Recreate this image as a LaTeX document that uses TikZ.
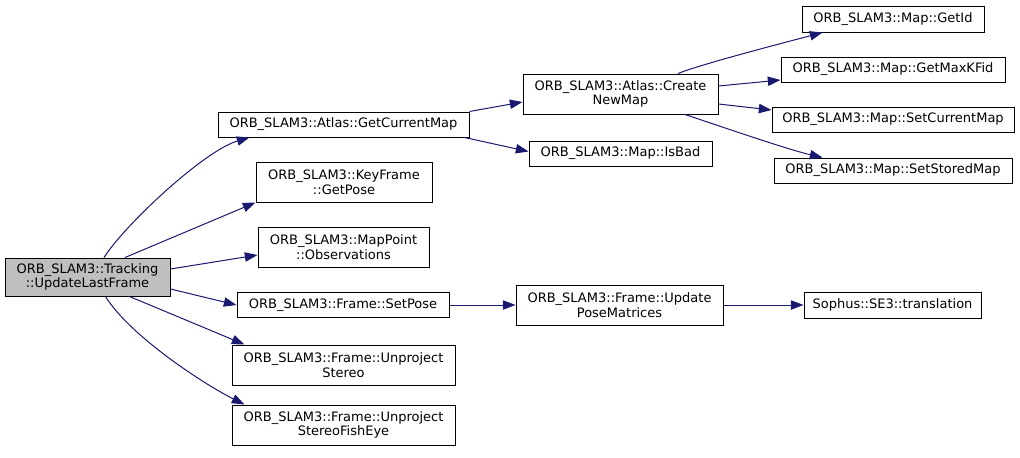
\documentclass[tikz,border=0pt]{standalone}
\usepackage{fontspec}
\setmainfont{DejaVu Sans}
\usetikzlibrary{arrows.meta,calc}
\definecolor{edgeblue}{HTML}{191970}
\definecolor{curgray}{HTML}{BFBFBF}

\begin{document}
\begin{tikzpicture}[x=0.75pt,y=-0.75pt,>={Triangle[length=9.5pt,width=7pt]},
  fn/.style={draw=black,line width=0.75pt,fill=white,align=center,inner sep=0pt,
    font=\fontsize{9.75pt}{11pt}\selectfont},
  sz/.style 2 args={minimum width=#1*0.75pt,minimum height=#2*0.75pt},
  call/.style={->,draw=edgeblue,line width=0.75pt}]
\fill[white] (0,0) rectangle (1020,457);
\useasboundingbox (0,0) rectangle (1020,457);
% current function
\node[fn,sz={165}{38},fill=curgray] (trk) at (87.5,277) {ORB\_SLAM3::Tracking\\::UpdateLastFrame};
% direct callees
\node[fn,sz={251}{25}] (gcm) at (343.5,124.5) {ORB\_SLAM3::Atlas::GetCurrentMap};
\node[fn,sz={176}{40}] (gkp) at (344,182) {ORB\_SLAM3::KeyFrame\\::GetPose};
\node[fn,sz={171}{40}] (obs) at (343.5,247) {ORB\_SLAM3::MapPoint\\::Observations};
\node[fn,sz={212}{25}] (sp) at (343,305) {ORB\_SLAM3::Frame::SetPose};
\node[fn,sz={223}{40}] (ups) at (343.5,365) {ORB\_SLAM3::Frame::Unproject\\Stereo};
\node[fn,sz={223}{40}] (upf) at (343.5,425) {ORB\_SLAM3::Frame::Unproject\\StereoFishEye};
% second level
\node[fn,sz={195}{40}] (cnm) at (620.5,94) {ORB\_SLAM3::Atlas::Create\\NewMap};
\node[fn,sz={183}{25}] (isb) at (620.5,153.5) {ORB\_SLAM3::Map::IsBad};
\node[fn,sz={207}{40}] (upm) at (619.5,305) {ORB\_SLAM3::Frame::Update\\PoseMatrices};
% third level
\node[fn,sz={182}{26}] (gid) at (893,19) {ORB\_SLAM3::Map::GetId};
\node[fn,sz={224}{25}] (gmk) at (893,69.5) {ORB\_SLAM3::Map::GetMaxKFid};
\node[fn,sz={242}{25}] (scm) at (893,119.5) {ORB\_SLAM3::Map::SetCurrentMap};
\node[fn,sz={238}{25}] (ssm) at (893,170.5) {ORB\_SLAM3::Map::SetStoredMap};
\node[fn,sz={177}{26}] (tr) at (892.5,305) {Sophus::SE3::translation};
% calls
\draw[call] ($(trk.north)+(16.5,0)$) .. controls +(21,-33) and +(-45,13) .. ($(gcm.south west)+(32,0)$);
\draw[call] ($(trk.north)+(37.5,0)$) -- (gkp.south west);
\draw[call] ($(trk.east)+(0,-8)$) -- ($(obs.west)+(0,8)$);
\draw[call] ($(trk.east)+(0,12)$) -- (sp.west);
\draw[call] ($(trk.south)+(42,0)$) -- ($(ups.north west)+(13,0)$);
\draw[call] ($(trk.south)+(18,0)$) .. controls +(25,40) and +(-40,-20) .. ($(upf.north west)+(13,0)$);
\draw[call] (gcm.north east) -- ($(cnm.west)+(0,8)$);
\draw[call] ($(gcm.south east)+(-5,0)$) -- ($(isb.west)+(0,-2)$);
\draw[call] ($(cnm.north)+(57.5,0)$) .. controls +(25,-10) and +(-30,8) .. ($(gid.south west)+(21,0)$);
\draw[call] ($(cnm.east)+(0,-8)$) -- ($(gmk.west)+(0,10.5)$);
\draw[call] ($(cnm.east)+(0,10)$) -- ($(scm.west)+(0,-9.5)$);
\draw[call] ($(cnm.south)+(64.5,0)$) .. controls +(30,10) and +(-35,-8) .. ($(ssm.north west)+(49,0)$);
\draw[call] (sp) -- (upm);
\draw[call] (upm) -- (tr);
\end{tikzpicture}
\end{document}
